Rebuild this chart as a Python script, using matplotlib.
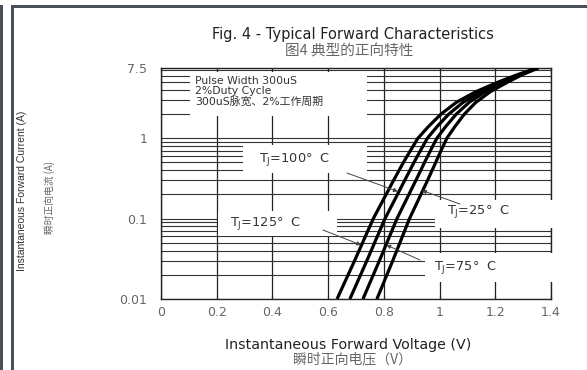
import matplotlib
matplotlib.use("Agg")
import matplotlib.pyplot as plt
from matplotlib.patches import Rectangle
from matplotlib.ticker import FixedLocator, NullFormatter, LogLocator

LATIN = ["DejaVu Sans", "Noto Sans CJK SC"]
CJK = ["Noto Sans CJK SC", "DejaVu Sans"]
plt.rcParams["font.family"] = LATIN

# forward current (A) and forward voltage (V) for each junction temperature
current = [0.01, 0.03, 0.1, 0.3, 0.5, 0.7, 1, 1.4, 2, 2.8, 3.8, 5, 6.2, 7.5]
vf_125 = [0.632, 0.695, 0.762, 0.835, 0.870, 0.895, 0.922, 0.960, 1.005, 1.060, 1.130, 1.210, 1.280, 1.350]
vf_100 = [0.678, 0.739, 0.804, 0.875, 0.908, 0.931, 0.956, 0.991, 1.033, 1.084, 1.148, 1.222, 1.286, 1.350]
vf_75 = [0.725, 0.784, 0.847, 0.915, 0.946, 0.967, 0.990, 1.022, 1.060, 1.106, 1.164, 1.232, 1.291, 1.350]
vf_25 = [0.775, 0.832, 0.892, 0.957, 0.986, 1.005, 1.026, 1.055, 1.089, 1.130, 1.182, 1.244, 1.297, 1.355]

x_ticks = [0, 0.2, 0.4, 0.6, 0.8, 1.0, 1.2, 1.4]
x_labels = ["0", "0.2", "0.4", "0.6", "0.8", "1", "1.2", "1.4"]
y_ticks = [0.01, 0.1, 1, 7.5]
y_labels = ["0.01", "0.1", "1", "7.5"]

W, H = 587, 370
fig = plt.figure(figsize=(W / 100, H / 100), dpi=100)
fig.patch.set_facecolor("white")

# axes box in pixels: left 161, right 551, top 68, bottom 299
L, R, T, B = 161, 551, 68, 299
ax = fig.add_axes([L / W, 1 - B / H, (R - L) / W, (B - T) / H])
ax.set_xlim(0, 1.4)
ax.set_yscale("log")
ax.set_ylim(0.01, 7.5)

ax.xaxis.set_major_locator(FixedLocator(x_ticks))
ax.set_xticklabels(x_labels)
ax.yaxis.set_major_locator(FixedLocator(y_ticks))
ax.set_yticklabels(y_labels)
ax.yaxis.set_minor_locator(LogLocator(base=10, subs=range(2, 10)))
ax.yaxis.set_minor_formatter(NullFormatter())

ax.tick_params(axis="both", which="both", length=0, colors="#666666", labelsize=9)
ax.tick_params(axis="x", pad=5)
ax.tick_params(axis="y", pad=10)
ax.tick_params(axis="x", which="major", top=True, direction="in", length=3, color="#222222")

ax.grid(True, which="major", axis="x", color="#222222", lw=0.9)
ax.grid(True, which="both", axis="y", color="#333333", lw=0.8)
for s in ax.spines.values():
    s.set_color("#222222")
    s.set_linewidth(1.0)

for vf in (vf_125, vf_100, vf_75, vf_25):
    ax.plot(vf, current, color="black", lw=2.3, zorder=3,
            solid_capstyle="butt", solid_joinstyle="round")


def px_box(x0, x1, y0, y1):
    # white panel behind a label, given in figure pixels
    ax.add_patch(Rectangle(((x0 - L) / (R - L), (B - y1) / (B - T)),
                           (x1 - x0) / (R - L), (y1 - y0) / (B - T),
                           transform=ax.transAxes, facecolor="white",
                           edgecolor="none", zorder=2.6, clip_on=False))


def px_pos(x, y):
    return (x - L) / (R - L), (B - y) / (B - T)


# test-condition note
px_box(190, 367, 72, 116)
for txt, yy in [("Pulse Width 300uS", 81), ("2%Duty Cycle", 91), ("300uS脉宽、2%工作周期", 101)]:
    ax.text(*px_pos(195, yy), txt, transform=ax.transAxes, fontsize=7.8,
            color="#333333", va="center", ha="left", zorder=4)

# temperature labels with pointer lines to their curves
labels = [
    ("T$_\\mathrm{J}$=100°  C", (243, 367, 145, 173), (295, 160), (347, 173), (0.850, 0.218)),
    ("T$_\\mathrm{J}$=25°  C", (435, 562, 200, 228), (479, 211), (460, 204), (0.937, 0.224)),
    ("T$_\\mathrm{J}$=125°  C", (218, 337, 211, 236), (266, 223), (323, 230), (0.718, 0.047)),
    ("T$_\\mathrm{J}$=75°  C", (425, 562, 253, 282), (466, 267), (420, 260), (0.809, 0.047)),
]
for txt, box, tpos, start, tip in labels:
    px_box(*box)
    ax.text(*px_pos(*tpos), txt, transform=ax.transAxes, fontsize=9.3,
            color="#333333", ha="center", va="center", zorder=4)
    ax.annotate("", xy=tip, xycoords="data",
                xytext=px_pos(*start), textcoords="axes fraction",
                arrowprops=dict(arrowstyle="-|>", color="#444444", lw=0.7,
                                mutation_scale=6, shrinkA=0, shrinkB=0),
                zorder=4, annotation_clip=False)

# titles and axis labels
fig.text(353 / W, 1 - 35 / H, "Fig. 4 - Typical Forward Characteristics",
         ha="center", va="center", fontsize=10.5, color="#222222")
fig.text(349 / W, 1 - 52 / H, "图4 典型的正向特性", family=CJK,
         ha="center", va="center", fontsize=10.5, color="#666666")
fig.text(348 / W, 1 - 345 / H, "Instantaneous Forward Voltage (V)",
         ha="center", va="center", fontsize=10.3, color="#222222")
fig.text(352 / W, 1 - 359 / H, "瞬时正向电压（V）", family=CJK,
         ha="center", va="center", fontsize=10, color="#666666")
fig.text(22 / W, 1 - 191 / H, "Instantaneous Forward Current (A)",
         family=["Liberation Sans"], rotation=90,
         ha="center", va="center", fontsize=7.5, color="#333333")
fig.text(50 / W, 1 - 197 / H, "瞬时正向电流 (A)", family=CJK, rotation=90,
         ha="center", va="center", fontsize=7, color="#666666")

# dark frame on the left and top
frame = "#4b5058"
fig.add_artist(Rectangle((0, 0), 3 / W, 1 - 5 / H, transform=fig.transFigure,
                         facecolor=frame, edgecolor="none"))
fig.add_artist(Rectangle((11 / W, 0), 3 / W, 1 - 5 / H, transform=fig.transFigure,
                         facecolor=frame, edgecolor="none"))
fig.add_artist(Rectangle((11 / W, 1 - 7.5 / H), 1 - 11 / W, 2.5 / H,
                         transform=fig.transFigure, facecolor=frame, edgecolor="none"))

fig.savefig("out.png", dpi=100, facecolor="white")
